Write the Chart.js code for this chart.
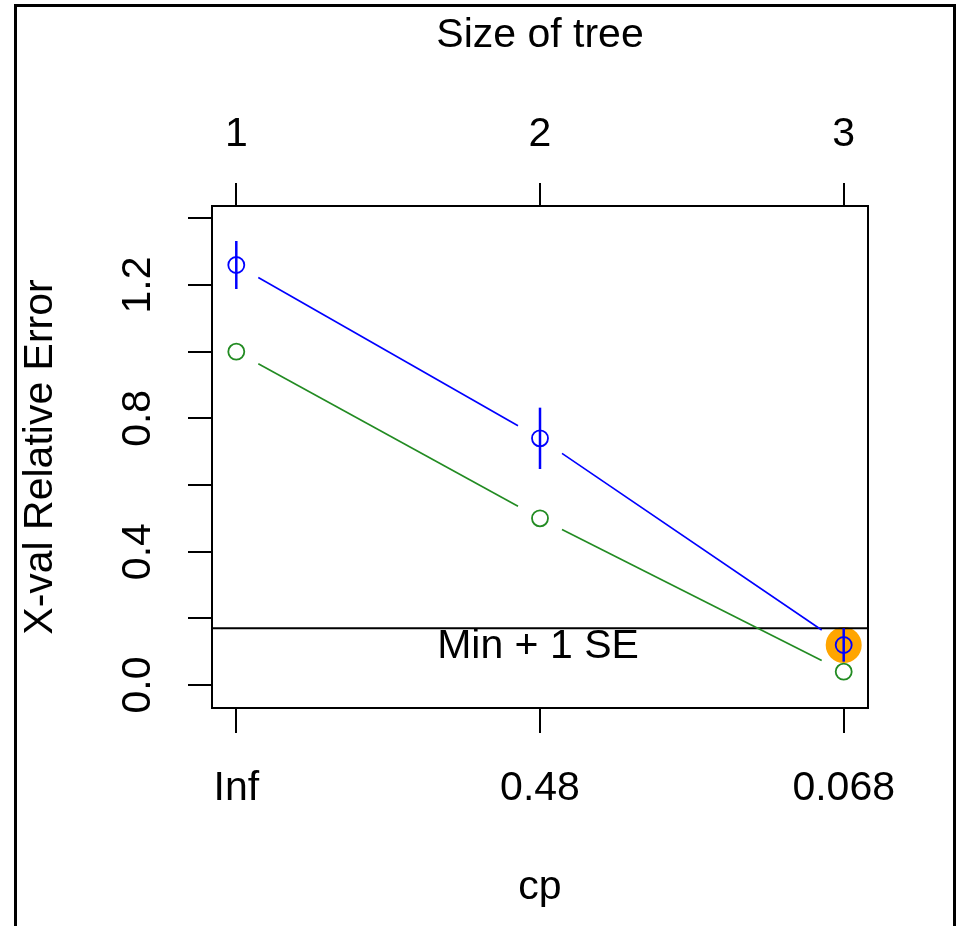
<!DOCTYPE html>
<html>
<head>
<meta charset="utf-8">
<script src="https://cdn.jsdelivr.net/npm/chart.js@4.4.1/dist/chart.umd.min.js"></script>
<style>
  body { margin: 0; background: #fff; }
  #wrap { position: relative; width: 959px; height: 926px; overflow: hidden; }
  #frame { position: absolute; left: 14px; top: 4px; width: 936px; height: 940px;
           border: 3px solid #000; border-bottom: none; pointer-events: none; }
  canvas { position: absolute; left: 0; top: 0; }
</style>
</head>
<body>
<div id="wrap">
<canvas id="cpChart" width="959" height="926"></canvas>
<div id="frame"></div>
</div>
<script>
const sizes = [1, 2, 3];
const cpLabels = ['Inf', '0.48', '0.068'];
const xError = [1.26, 0.74, 0.12];
const xStd = [0.072, 0.092, 0.05];
const relError = [1.0, 0.5, 0.04];
const yTicks = [0, 0.2, 0.4, 0.6, 0.8, 1.0, 1.2, 1.4];
const yLabelled = [0, 0.4, 0.8, 1.2];
const minLine = xError[2] + xStd[2];

const font = 'Liberation Sans, Arial, sans-serif';
const fs = 41;

// R type="b" style lines: segments between points with a gap round each point
const gapLines = {
    id: 'gapLines',
    afterDatasetsDraw(chart) {
        const ctx = chart.ctx;
        const area = chart.chartArea;
        const x = chart.scales.x, y = chart.scales.y;
        ctx.save();

        // min + 1 SE line
        ctx.strokeStyle = '#000';
        ctx.lineWidth = 2;
        ctx.beginPath();
        ctx.moveTo(area.left, y.getPixelForValue(minLine));
        ctx.lineTo(area.right, y.getPixelForValue(minLine));
        ctx.stroke();
        ctx.fillStyle = '#000';
        ctx.font = fs + 'px ' + font;
        ctx.textAlign = 'center';
        ctx.textBaseline = 'middle';
        ctx.fillText('Min + 1 SE', (area.left + area.right) / 2 - 2, y.getPixelForValue(minLine) + 18);

        [[0, '#0000ff'], [1, '#228b22']].forEach(([di, col]) => {
            const pts = chart.getDatasetMeta(di).data;
            ctx.strokeStyle = col;
            ctx.lineWidth = 1.6;
            for (let i = 0; i < pts.length - 1; i++) {
                const a = pts[i], b = pts[i + 1];
                const dx = b.x - a.x, dy = b.y - a.y;
                const g = 22 / dx;
                ctx.beginPath();
                ctx.moveTo(a.x + dx * g, a.y + dy * g);
                ctx.lineTo(b.x - dx * g, b.y - dy * g);
                ctx.stroke();
            }
        });

        // error bars
        ctx.strokeStyle = '#0000ff';
        ctx.lineWidth = 2.5;
        sizes.forEach((s, i) => {
            const px = x.getPixelForValue(s);
            ctx.beginPath();
            ctx.moveTo(px, y.getPixelForValue(xError[i] + xStd[i]));
            ctx.lineTo(px, y.getPixelForValue(xError[i] - xStd[i]));
            ctx.stroke();
        });

        // plot box
        ctx.strokeStyle = '#000';
        ctx.lineWidth = 2;
        ctx.strokeRect(area.left, area.top, area.right - area.left, area.bottom - area.top);
        ctx.restore();
    }
};

const tickGrid = { drawOnChartArea: false, color: '#000', lineWidth: 2 };

new Chart(document.getElementById('cpChart'), {
    type: 'scatter',
    data: {
        datasets: [
            {
                data: sizes.map((s, i) => ({ x: s, y: xError[i] })),
                borderColor: '#0000ff', backgroundColor: 'rgba(0,0,0,0)',
                pointRadius: 8, borderWidth: 1.8, order: 1
            },
            {
                data: sizes.map((s, i) => ({ x: s, y: relError[i] })),
                borderColor: '#228b22', backgroundColor: 'rgba(0,0,0,0)',
                pointRadius: 8, borderWidth: 1.8, order: 2
            },
            {
                data: [{ x: sizes[2], y: xError[2] }],
                borderColor: '#ffa500', backgroundColor: '#ffa500',
                pointRadius: 18, borderWidth: 0, order: 3
            }
        ]
    },
    options: {
        responsive: false,
        animation: false,
        layout: { padding: { left: 0, top: 5, right: 91, bottom: 0 } },
        plugins: { legend: { display: false }, tooltip: { enabled: false } },
        scales: {
            x: {
                type: 'linear', position: 'bottom', min: 0.92, max: 3.08,
                afterBuildTicks: (s) => { s.ticks = sizes.map(v => ({ value: v })); },
                afterFit: (s) => { s.height = 218; },
                grid: { ...tickGrid, tickLength: 25 },
                border: { display: false },
                ticks: {
                    color: '#000', font: { family: font, size: fs }, padding: 31,
                    maxRotation: 0, callback: (v) => cpLabels[sizes.indexOf(v)]
                },
                title: { display: true, text: 'cp', color: '#000',
                         font: { family: font, size: fs }, padding: { bottom: 14 } }
            },
            x2: {
                type: 'linear', position: 'top', min: 0.92, max: 3.08,
                afterBuildTicks: (s) => { s.ticks = sizes.map(v => ({ value: v })); },
                afterFit: (s) => { s.height = 201; },
                grid: { ...tickGrid, tickLength: 23 },
                border: { display: false },
                ticks: {
                    color: '#000', font: { family: font, size: fs }, padding: 24,
                    maxRotation: 0, callback: (v) => String(v)
                },
                title: { display: true, text: 'Size of tree', color: '#000',
                         font: { family: font, size: fs }, padding: { top: 6 } }
            },
            y: {
                type: 'linear', position: 'left', min: -0.069, max: 1.437,
                afterBuildTicks: (s) => { s.ticks = yTicks.map(v => ({ value: v })); },
                afterFit: (s) => { s.width = 212; },
                grid: { ...tickGrid, tickLength: 24 },
                border: { display: false },
                ticks: {
                    color: '#000', font: { family: font, size: fs }, padding: 21,
                    minRotation: 90, maxRotation: 90, crossAlign: 'center',
                    callback: (v) => yLabelled.some(l => Math.abs(l - v) < 1e-9) ? v.toFixed(1) : ''
                },
                title: { display: true, text: 'X-val Relative Error', color: '#000',
                         font: { family: font, size: fs }, padding: { top: 16 } }
            }
        }
    },
    plugins: [gapLines]
});
</script>
</body>
</html>
